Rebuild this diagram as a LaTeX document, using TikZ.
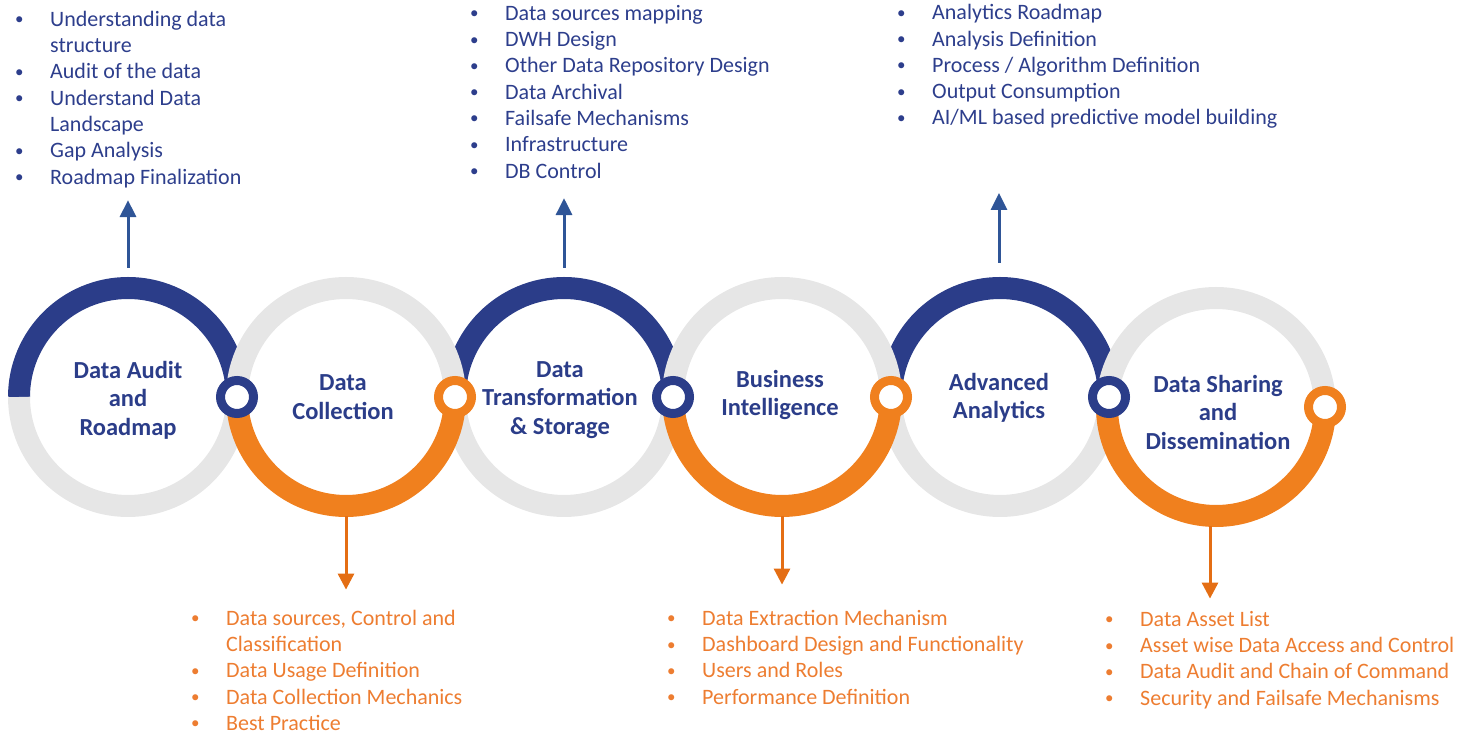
\documentclass[tikz,border=0pt]{standalone}
\usepackage{fontspec}
\setmainfont{Carlito}
\usetikzlibrary{arrows.meta, positioning}
\definecolor{ringblue}{RGB}{43,61,137}
\definecolor{ringorange}{RGB}{240,128,30}
\definecolor{ringgrey}{RGB}{230,230,230}
\definecolor{textblue}{RGB}{45,62,140}
\definecolor{textorange}{RGB}{237,125,49}
\definecolor{arrowblue}{RGB}{47,85,151}
\definecolor{arroworange}{RGB}{228,110,20}
\newcommand{\bitem}[1]{\makebox[36pt][l]{\hspace{1pt}\raisebox{1.5pt}{\fontsize{17}{17}\selectfont\textbullet}}\strut#1}
\newcommand{\bcont}[1]{\hspace*{36pt}\strut#1}
\tikzset{
  stage/.style={circle, minimum size=258pt, inner sep=0pt, align=center,
    text=ringblue, font=\bfseries\fontsize{24.5}{28.5}\selectfont},
  ring/.style={line width=22pt},
  knob/.style={circle, fill=white, line width=9pt, minimum size=33pt, inner sep=0pt},
  bluelist/.style={anchor=north west, inner sep=0pt, align=left, text=textblue,
    font=\fontsize{22}{26.3}\selectfont},
  orangelist/.style={bluelist, text=textorange},
  uparrow/.style={-{Triangle[length=17pt,width=16pt]}, line width=3pt, draw=arrowblue},
  downarrow/.style={-{Triangle[length=16pt,width=16pt]}, line width=3pt, draw=arroworange}
}
\begin{document}
\begin{tikzpicture}[x=1pt, y=1pt]
\useasboundingbox (0,0) rectangle (1475,734);

% Stages
\node[stage] (audit) at (128,334) {Data Audit\\and\\Roadmap};
\node[stage] (collect) at (343,337) {Data\\Collection};
\node[stage] (transform) at (560,334) {Data\\Transformation\\\& Storage};
\node[stage] (bi) at (780,339) {Business\\Intelligence};
\node[stage] (analytics) at (999,336) {Advanced\\Analytics};
\node[stage] (sharing) at (1218,322) {Data Sharing\\and\\Dissemination};

% Blue arcs (bottom layer)
\draw[ring, ringblue] (128,337) ++(180:109pt) arc[start angle=180, end angle=0, radius=109pt];
\draw[ring, ringblue] (564,337) ++(180:109pt) arc[start angle=180, end angle=0, radius=109pt];
\draw[ring, ringblue] (1000,337) ++(180:109pt) arc[start angle=180, end angle=0, radius=109pt];

% Grey arcs
\draw[ring, ringgrey] (128,337) ++(180:109pt) arc[start angle=180, end angle=360, radius=109pt];
\draw[ring, ringgrey] (346,337) ++(0:109pt) arc[start angle=0, end angle=180, radius=109pt];
\draw[ring, ringgrey] (564,337) ++(180:109pt) arc[start angle=180, end angle=360, radius=109pt];
\draw[ring, ringgrey] (782,337) ++(0:109pt) arc[start angle=0, end angle=180, radius=109pt];
\draw[ring, ringgrey] (1000,337) ++(180:109pt) arc[start angle=180, end angle=360, radius=109pt];
\draw[ring, ringgrey] (1216,327) ++(0:109pt) arc[start angle=0, end angle=180, radius=109pt];

% Orange arcs
\draw[ring, ringorange] (346,337) ++(180:109pt) arc[start angle=180, end angle=360, radius=109pt];
\draw[ring, ringorange] (782,337) ++(180:109pt) arc[start angle=180, end angle=360, radius=109pt];
\draw[ring, ringorange] (1216,327) ++(180:109pt) arc[start angle=180, end angle=360, radius=109pt];

% Knobs
\node[knob, draw=ringblue] (k1) at (237,337) {};
\node[knob, draw=ringorange] (k2) at (455,337) {};
\node[knob, draw=ringblue] (k3) at (673,337) {};
\node[knob, draw=ringorange] (k4) at (891,337) {};
\node[knob, draw=ringblue] (k5) at (1109,337) {};
\node[knob, draw=ringorange] (k6) at (1325,327) {};

% Arrow anchors on the rings
\coordinate (auditTop) at (128,466);
\coordinate (transformTop) at (564,466);
\coordinate (analyticsTop) at (999,471);
\coordinate (collectBot) at (346,218);
\coordinate (biBot) at (782,218);
\coordinate (sharingBot) at (1210,208);

% Lists above
\node[bluelist] (auditlist) at (14,726.4) {\bitem{Understanding data}\\\bcont{structure}\\\bitem{Audit of the data}\\\bitem{Understand Data}\\\bcont{Landscape}\\\bitem{Gap Analysis}\\\bitem{Roadmap Finalization}};
\node[bluelist] (transformlist) at (469,732.4) {\bitem{Data sources mapping}\\\bitem{DWH Design}\\\bitem{Other Data Repository Design}\\\bitem{Data Archival}\\\bitem{Failsafe Mechanisms}\\\bitem{Infrastructure}\\\bitem{DB Control}};
\node[bluelist] (analyticslist) at (896,732.9) {\bitem{Analytics Roadmap}\\\bitem{Analysis Definition}\\\bitem{Process / Algorithm Definition}\\\bitem{Output Consumption}\\\bitem{AI/ML based predictive model building}};

% Lists below
\node[orangelist] (collectlist) at (190,127.4) {\bitem{Data sources, Control and}\\\bcont{Classification}\\\bitem{Data Usage Definition}\\\bitem{Data Collection Mechanics}\\\bitem{Best Practice}};
\node[orangelist] (bilist) at (666,127.4) {\bitem{Data Extraction Mechanism}\\\bitem{Dashboard Design and Functionality}\\\bitem{Users and Roles}\\\bitem{Performance Definition}};
\node[orangelist] (sharinglist) at (1104,126.4) {\bitem{Data Asset List}\\\bitem{Asset wise Data Access and Control}\\\bitem{Data Audit and Chain of Command}\\\bitem{Security and Failsafe Mechanisms}};

% Arrows
\draw[uparrow] (auditTop) -- ([yshift=-8pt]auditTop |- auditlist.south);
\draw[uparrow] (transformTop) -- ([yshift=-12pt]transformTop |- transformlist.south);
\draw[uparrow] (analyticsTop) -- ([yshift=-60pt]analyticsTop |- analyticslist.south);
\draw[downarrow] (collectBot) -- ([yshift=17pt]collectBot |- collectlist.north);
\draw[downarrow] (biBot) -- ([yshift=22pt]biBot |- bilist.north);
\draw[downarrow] (sharingBot) -- ([yshift=9pt]sharingBot |- sharinglist.north);
\end{tikzpicture}
\end{document}
